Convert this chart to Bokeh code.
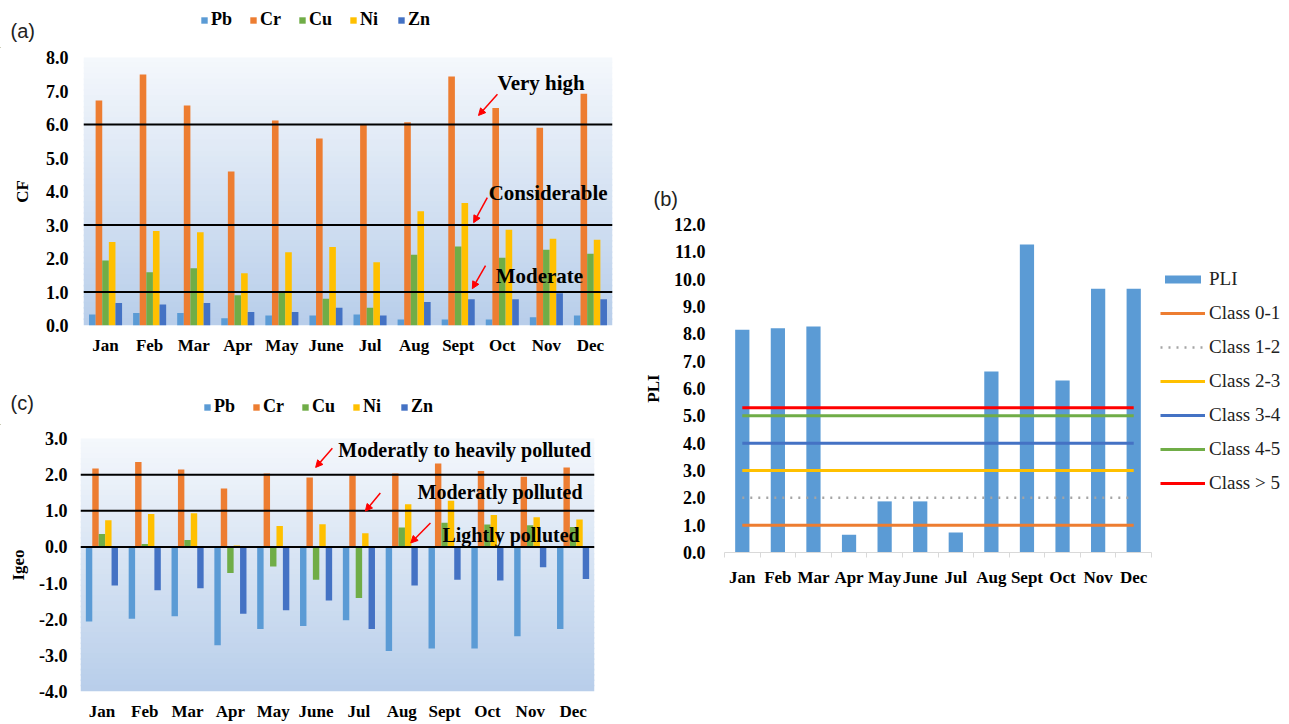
import numpy as np
from bokeh.plotting import figure
from bokeh.models import (FactorRange, Range1d, Span, Label, Arrow, NormalHead, Legend,
                          LegendItem, BoxAnnotation, FixedTicker, PrintfTickFormatter,
                          ColumnDataSource)
from bokeh.transform import dodge
from bokeh.layouts import row, column
from bokeh.embed import file_html
from bokeh.resources import INLINE

# ---------------- data ----------------
months = ["Jan", "Feb", "Mar", "Apr", "May", "June", "Jul", "Aug", "Sept", "Oct", "Nov", "Dec"]
metals = ["Pb", "Cr", "Cu", "Ni", "Zn"]
metal_colors = ["#5b9bd5", "#ed7d31", "#70ad47", "#ffc000", "#4472c4"]

# (a) Contamination factor CF
cf_pb = [0.33, 0.37, 0.37, 0.22, 0.30, 0.30, 0.33, 0.18, 0.18, 0.18, 0.25, 0.30]
cf_cr = [6.72, 7.49, 6.57, 4.60, 6.12, 5.58, 6.00, 6.07, 7.43, 6.49, 5.90, 6.92]
cf_cu = [1.94, 1.59, 1.71, 0.90, 1.00, 0.80, 0.53, 2.11, 2.36, 2.02, 2.26, 2.14]
cf_ni = [2.49, 2.82, 2.78, 1.56, 2.19, 2.34, 1.89, 3.41, 3.66, 2.86, 2.59, 2.56]
cf_zn = [0.67, 0.63, 0.67, 0.40, 0.40, 0.53, 0.30, 0.70, 0.78, 0.78, 0.96, 0.78]
cf_thresholds = [1.0, 3.0, 6.0]
cf_ticks = [0, 1, 2, 3, 4, 5, 6, 7, 8]

# (c) Geo-accumulation index Igeo
ig_pb = [-2.06, -1.99, -1.92, -2.72, -2.27, -2.19, -2.03, -2.88, -2.81, -2.81, -2.47, -2.27]
ig_cr = [2.17, 2.35, 2.14, 1.62, 2.03, 1.92, 1.98, 2.03, 2.31, 2.10, 1.94, 2.20]
ig_cu = [0.36, 0.08, 0.19, -0.72, -0.54, -0.91, -1.41, 0.54, 0.67, 0.62, 0.60, 0.55]
ig_ni = [0.74, 0.91, 0.93, 0.04, 0.58, 0.63, 0.38, 1.18, 1.28, 0.88, 0.82, 0.76]
ig_zn = [-1.07, -1.20, -1.14, -1.85, -1.75, -1.48, -2.27, -1.07, -0.91, -0.93, -0.56, -0.89]
ig_thresholds = [0.0, 1.0, 2.0]
ig_ticks = [-4, -3, -2, -1, 0, 1, 2, 3]

# (b) Pollution load index PLI
pli = [8.15, 8.20, 8.27, 0.65, 1.87, 1.87, 0.73, 6.62, 11.27, 6.29, 9.65, 9.65]
class_names = ["Class 0-1", "Class 1-2", "Class 2-3", "Class 3-4", "Class 4-5", "Class > 5"]
class_levels = [1.0, 2.0, 3.0, 4.0, 5.0, 5.3]
class_colors = ["#ed7d31", "#a5a5a5", "#ffc000", "#4472c4", "#70ad47", "#ff0000"]
class_dash = ["solid", "2 6", "solid", "solid", "solid", "solid"]
pli_ticks = list(range(0, 13))

# annotation texts: (text, x, y) and arrows (x0, y0, x1, y1) in data units
cf_notes = [("Very high", 9.39, 7.25), ("Considerable", 9.19, 3.97), ("Moderate", 9.35, 1.49)]
cf_arrows = [(9.39, 6.90, 8.96, 6.27), (9.16, 3.82, 8.85, 3.07), (9.12, 1.79, 8.82, 1.10)]
ig_notes = [("Moderatly to heavily polluted", 6.02, 2.67), ("Moderatly polluted", 7.87, 1.51),
            ("Lightly polluted", 8.45, 0.33)]
ig_arrows = [(5.88, 2.73, 5.49, 2.20), (7.00, 1.49, 6.65, 0.99), (8.17, 0.66, 7.71, 0.11)]

SERIF = "Liberation Serif"
SANS = "Liberation Sans"


def style_axes(p):
    for ax in (p.xaxis[0], p.yaxis[0]):
        ax.axis_line_color = None
        ax.major_tick_line_color = None
        ax.minor_tick_line_color = None
        ax.major_tick_out = 0
        ax.major_tick_in = 0
        ax.minor_tick_out = 0
        ax.minor_tick_in = 0
        ax.major_label_text_font = SERIF
        ax.major_label_text_font_style = "bold"
        ax.major_label_text_color = "black"
        ax.axis_label_text_font = SERIF
        ax.axis_label_text_font_style = "bold"
        ax.axis_label_text_color = "black"
    p.yaxis[0].formatter = PrintfTickFormatter(format="%.1f")


def make_fig(width, height, xr, y0, y1, ml, mr, mt, mb):
    p = figure(x_range=xr, y_range=Range1d(y0, y1), width=width, height=height,
               output_backend="svg", toolbar_location=None, frame_align=False,
               min_border_left=ml, min_border_right=mr, min_border_top=mt, min_border_bottom=mb)
    p.outline_line_color = None
    p.grid.grid_line_color = None
    p.background_fill_color = "white"
    p.border_fill_color = "white"
    style_axes(p)
    return p


def make_header(width, height):
    h = figure(width=width, height=height, x_range=Range1d(0, width), y_range=Range1d(0, height),
               output_backend="svg", toolbar_location=None, frame_align=False,
               x_axis_location=None, y_axis_location=None, min_border=0)
    h.outline_line_color = None
    h.grid.grid_line_color = None
    return h


def add_gradient(p, y0, y1, n=48):
    top = np.array([245, 248, 252])
    bot = np.array([184, 206, 234])
    edges = np.linspace(y1, y0, n + 1)
    step = (y1 - y0) / n
    for i in range(n):
        t = (i + 0.5) / n
        c = top + (bot - top) * t
        col = "#%02x%02x%02x" % tuple(int(round(v)) for v in c)
        p.add_layout(BoxAnnotation(bottom=edges[i + 1], top=edges[i] + step * 0.3,
                                   fill_color=col, fill_alpha=1.0, line_color=None,
                                   level="underlay"))


def add_bars(p, series):
    src = ColumnDataSource(dict(month=months, **{m: v for m, v in zip(metals, series)}))
    offsets = [-0.3, -0.15, 0.0, 0.15, 0.3]
    for m, c, off in zip(metals, metal_colors, offsets):
        p.vbar(x=dodge("month", off, range=p.x_range), top=m, width=0.15, source=src,
               fill_color=c, line_color=None)


def header_with_legend(width, height, tag, tag_y, leg_x, leg_y):
    h = make_header(width, height)
    items = []
    for m, c in zip(metals, metal_colors):
        # legend key only: a swatch renderer kept outside the visible header area
        r = h.vbar(x=[-1000], top=[1], width=1, fill_color=c, line_color=None)
        items.append(LegendItem(label=m, renderers=[r]))
    leg = Legend(items=items, orientation="horizontal", location=(leg_x, leg_y))
    leg.label_text_font = SERIF
    leg.label_text_font_style = "bold"
    leg.label_text_font_size = "18px"
    leg.label_text_color = "black"
    leg.glyph_width = 8
    leg.glyph_height = 8
    leg.label_standoff = 3
    leg.label_height = 20
    leg.spacing = 17
    leg.padding = 0
    leg.margin = 0
    leg.border_line_color = None
    leg.background_fill_alpha = 0
    h.add_layout(leg)
    h.add_layout(Label(x=10, y=tag_y, text=tag, text_font=SANS, text_font_size="20px",
                       text_color="#222222", text_baseline="middle", text_align="left"))
    return h


def notes(p, texts, arrows, size):
    for (t, x, y) in texts:
        p.add_layout(Label(x=x, y=y, text=t, text_font=SERIF, text_font_style="bold",
                           text_font_size=size, text_color="black", text_baseline="middle",
                           text_align="left"))
    for (x0, y0, x1, y1) in arrows:
        p.add_layout(Arrow(end=NormalHead(size=7, fill_color="#ff0000", line_color="#ff0000"),
                           x_start=x0, y_start=y0, x_end=x1, y_end=y1,
                           line_color="#ff0000", line_width=1.5))


# ---------------- (a) CF ----------------
ha = header_with_legend(640, 48, "(a)", 18, 200, 18)
pa = make_fig(640, 332, FactorRange(*months), 0, 8, 83, 28, 9, 55)
add_gradient(pa, 0, 8)
add_bars(pa, [cf_pb, cf_cr, cf_cu, cf_ni, cf_zn])
for lv in cf_thresholds:
    pa.add_layout(Span(location=lv, dimension="width", line_color="black", line_width=2))
pa.yaxis[0].ticker = FixedTicker(ticks=cf_ticks)
pa.yaxis[0].major_label_text_font_size = "18px"
pa.yaxis[0].major_label_standoff = 15
pa.yaxis[0].axis_label = "CF"
pa.yaxis[0].axis_label_text_font_size = "17px"
pa.yaxis[0].axis_label_standoff = 11
pa.xaxis[0].major_label_text_font_size = "17px"
pa.xaxis[0].major_label_standoff = 10
notes(pa, cf_notes, cf_arrows, "21px")

# ---------------- (c) Igeo ----------------
hc = header_with_legend(640, 45, "(c)", 23, 203, 8)
pc = make_fig(640, 298, FactorRange(*months), -4, 3, 80, 46, 13, 31)
add_gradient(pc, -4, 3)
add_bars(pc, [ig_pb, ig_cr, ig_cu, ig_ni, ig_zn])
for lv in ig_thresholds:
    pc.add_layout(Span(location=lv, dimension="width", line_color="black", line_width=2))
pc.yaxis[0].ticker = FixedTicker(ticks=ig_ticks)
pc.yaxis[0].major_label_text_font_size = "18px"
pc.yaxis[0].major_label_standoff = 13
pc.yaxis[0].axis_label = "Igeo"
pc.yaxis[0].axis_label_text_font_size = "17px"
pc.yaxis[0].axis_label_standoff = 8
pc.xaxis[0].major_label_text_font_size = "17px"
pc.xaxis[0].major_label_standoff = 10
notes(pc, ig_notes, ig_arrows, "20px")

# ---------------- (b) PLI ----------------
idx = list(range(len(months)))
pb = make_fig(648, 723, Range1d(-0.5, 15.35), 0, 12, 84, 0, 224, 171)
srcb = ColumnDataSource(dict(x=idx, pli=pli))
rb = pb.vbar(x="x", top="pli", width=0.4, source=srcb, fill_color="#5b9bd5", line_color=None)
items = [LegendItem(label="PLI", renderers=[rb])]
for name, lv, col, dash in zip(class_names, class_levels, class_colors, class_dash):
    r = pb.line(x=idx, y=[lv] * len(months), line_color=col,
                line_width=3 if dash == "solid" else 2.5, line_dash=dash)
    items.append(LegendItem(label=name, renderers=[r]))
pb.yaxis[0].ticker = FixedTicker(ticks=pli_ticks)
pb.yaxis[0].major_label_text_font_size = "18px"
pb.yaxis[0].major_label_standoff = 19
pb.yaxis[0].axis_label = "PLI"
pb.yaxis[0].axis_label_text_font_size = "17px"
pb.yaxis[0].axis_label_standoff = 8
xb = pb.xaxis[0]
xb.ticker = FixedTicker(ticks=idx, minor_ticks=[i - 0.5 for i in range(len(months) + 1)])
xb.major_label_overrides = {i: m for i, m in enumerate(months)}
xb.bounds = (-0.5, len(months) - 0.5)
xb.axis_line_color = "#d9d9d9"
xb.minor_tick_line_color = "#d9d9d9"
xb.minor_tick_out = 5
xb.major_label_text_font_size = "17px"
xb.major_label_standoff = 10
legb = Legend(items=items, location=(436, 58), orientation="vertical")
legb.label_text_font = SERIF
legb.label_text_font_size = "19px"
legb.label_text_color = "#222222"
legb.glyph_width = 45
legb.glyph_height = 10
legb.label_standoff = 4
legb.label_height = 20
legb.spacing = 12
legb.padding = 0
legb.margin = 0
legb.border_line_color = None
legb.background_fill_alpha = 0
pb.add_layout(legb)
pb.title.text = "(b)"
pb.title.align = "left"
pb.title.offset = -71
pb.title.standoff = 29
pb.title.text_font = SANS
pb.title.text_font_size = "20px"
pb.title.text_font_style = "normal"
pb.title.text_color = "#222222"

layout = row(column(ha, pa, hc, pc), pb)
open("out.html", "w").write(file_html(layout, INLINE))
